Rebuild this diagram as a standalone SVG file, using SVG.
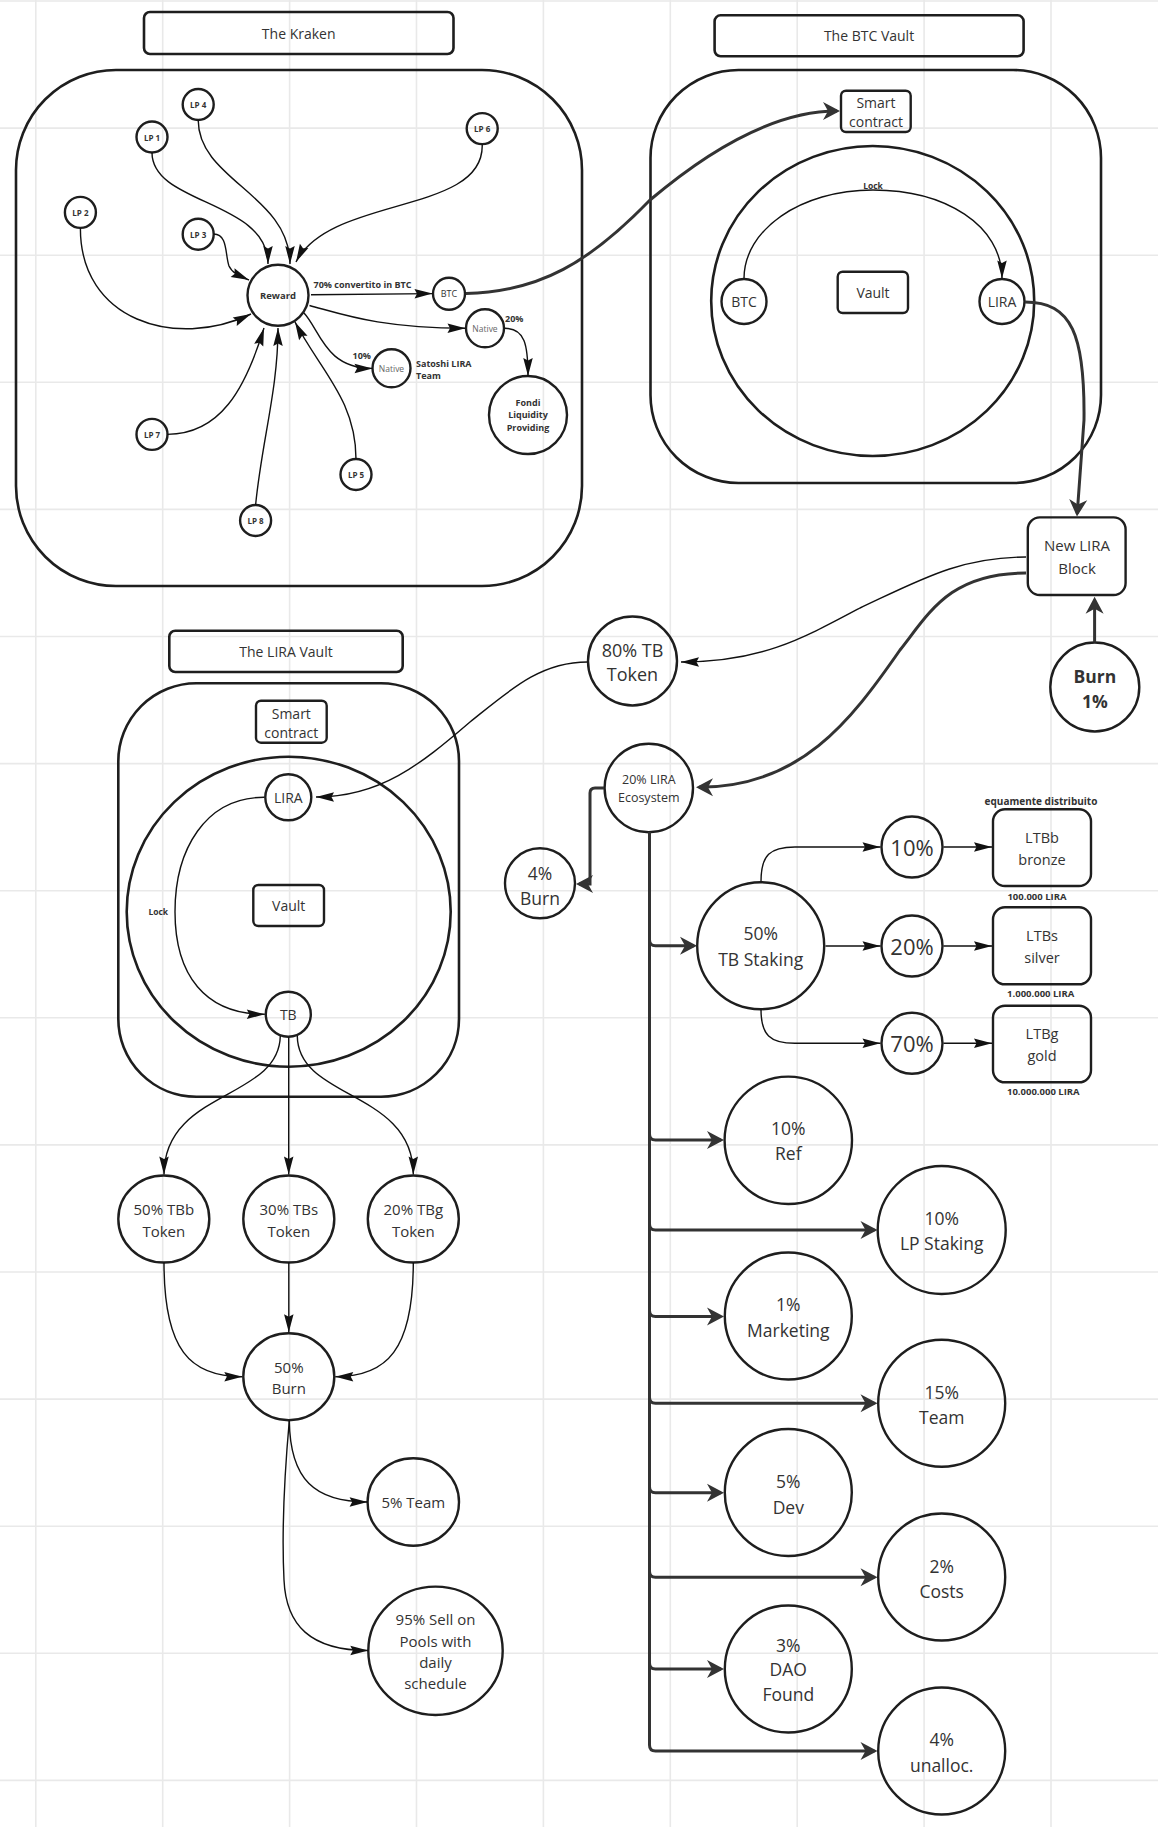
<svg xmlns="http://www.w3.org/2000/svg" width="1158" height="1827" viewBox="0 0 1158 1827">
<style>
.g{stroke:#e9e9e9;stroke-width:1.6}
.n{fill:none;stroke:#1e1e1e;stroke-width:2.4}
.c{fill:none;stroke:#1e1e1e;stroke-width:2.6}
.th{fill:none;stroke:#111;stroke-width:1.4;marker-end:url(#a)}
.tk{fill:none;stroke:#333;stroke-width:3;marker-end:url(#b)}
text{font-family:"Open Sans","Liberation Sans",sans-serif;fill:#333;text-anchor:middle;dominant-baseline:central}
.b{font-weight:700}
.s8{font-size:8px}.s85{font-size:8.5px}.s9{font-size:9px}.s95{font-size:9.5px}.s10{font-size:10px}.s125{font-size:12.5px}
.s14{font-size:14px}.s145{font-size:14.5px}.s15{font-size:15px}.s175{font-size:17.5px}.s18{font-size:18px}.s22{font-size:22px}
.st{text-anchor:start}
.gr{fill:#666}
</style>
<defs>
<marker id="a" markerUnits="userSpaceOnUse" markerWidth="20" markerHeight="12" refX="18" refY="4.75" orient="auto" overflow="visible"><path d="M0,0 L18,4.75 L0,9.5 L2.5,4.75 z" fill="#111"/></marker>
<marker id="b" markerUnits="userSpaceOnUse" markerWidth="18" markerHeight="18" refX="14" refY="9" orient="auto" overflow="visible"><path d="M0,0 L17,9 L0,18 L5,9 z" fill="#333"/></marker>
</defs>
<rect width="1158" height="1827" fill="#fff"/>
<g id="grid">
<path class="g" d="M35.8,0V1827M162.7,0V1827M289.6,0V1827M416.5,0V1827M543.4,0V1827M670.3,0V1827M797.2,0V1827M924.1,0V1827M1051,0V1827"/>
<path class="g" d="M0,1H1158M0,128.1H1158M0,255.2H1158M0,382.3H1158M0,509.4H1158M0,636.5H1158M0,763.6H1158M0,890.7H1158M0,1017.8H1158M0,1144.9H1158M0,1272H1158M0,1399.1H1158M0,1526.2H1158M0,1653.3H1158M0,1780.4H1158"/>
</g>

<g id="kraken">
<rect class="c" x="144" y="12" width="309.5" height="42" rx="6"/>
<text class="s14" x="298.7" y="33.5">The Kraken</text>
<rect class="c" x="16" y="70" width="566" height="516" rx="100"/>
</g>
<g id="lp1"><circle class="n" cx="152" cy="137" r="15.5"/><text class="b s8" x="152" y="137">LP 1</text></g>
<g id="lp2"><circle class="n" cx="80.4" cy="212.4" r="15.5"/><text class="b s8" x="80.4" y="212.4">LP 2</text></g>
<g id="lp3"><circle class="n" cx="198.2" cy="234.2" r="15.5"/><text class="b s8" x="198.2" y="234.2">LP 3</text></g>
<g id="lp4"><circle class="n" cx="198.2" cy="104.5" r="15.5"/><text class="b s8" x="198.2" y="104.5">LP 4</text></g>
<g id="lp5"><circle class="n" cx="356" cy="474.5" r="15.5"/><text class="b s8" x="356" y="474.5">LP 5</text></g>
<g id="lp6"><circle class="n" cx="482.2" cy="128.6" r="15.5"/><text class="b s8" x="482.2" y="128.6">LP 6</text></g>
<g id="lp7"><circle class="n" cx="152" cy="434.4" r="15.5"/><text class="b s8" x="152" y="434.4">LP 7</text></g>
<g id="lp8"><circle class="n" cx="255.6" cy="520.5" r="15.5"/><text class="b s8" x="255.6" y="520.5">LP 8</text></g>
<g id="reward"><circle class="n" cx="278" cy="295.3" r="30.5"/><text class="b s95" x="278" y="295.3">Reward</text></g>
<g id="btc-k"><circle class="n" cx="449" cy="293.8" r="16"/><text class="s9" x="449" y="293.8">BTC</text></g>
<g id="native20"><circle class="n" cx="485" cy="328.3" r="19"/><text class="s85 gr" x="485" y="328.3">Native</text></g>
<g id="native10"><circle class="n" cx="391.5" cy="368.3" r="19"/><text class="s85 gr" x="391.5" y="368.3">Native</text></g>
<g id="fondi"><circle class="n" cx="528" cy="415" r="39"/><text class="b s9" x="528" y="402.6">Fondi</text><text class="b s9" x="528" y="414.8">Liquidity</text><text class="b s9" x="528" y="427">Providing</text></g>
<g id="kraken-labels">
<text class="b s9" x="362.5" y="284">70% convertito in BTC</text>
<text class="b s9 st" x="505" y="318.7">20%</text>
<text class="b s9" x="361.7" y="355">10%</text>
<text class="b s9 st" x="416" y="363.3">Satoshi LIRA</text>
<text class="b s9 st" x="416" y="375.7">Team</text>
</g>

<g id="btcvault">
<rect class="c" x="714.6" y="15.3" width="309" height="41" rx="6"/>
<text class="s14" x="869" y="35.8">The BTC Vault</text>
<rect class="c" x="650.5" y="70" width="450.5" height="413" rx="88"/>
<ellipse class="c" cx="872.7" cy="301" rx="161.5" ry="155"/>
</g>
<g id="sc-btc"><rect class="n" x="841" y="90.7" width="69.7" height="41.3" rx="5"/><text class="s14" x="876" y="102">Smart</text><text class="s14" x="876" y="121">contract</text></g>
<g id="btc-v"><circle class="n" cx="744" cy="301.5" r="22.5"/><text class="s14" x="744" y="301.5">BTC</text></g>
<g id="vault-btc"><rect class="n" x="837.7" y="271.7" width="70.3" height="41.3" rx="5"/><text class="s14" x="873" y="292.3">Vault</text></g>
<g id="lira-v"><circle class="n" cx="1002" cy="301.5" r="22.5"/><text class="s14" x="1002" y="301.5">LIRA</text></g>
<text class="b s85" x="873" y="185.6">Lock</text>

<g id="newlira"><rect class="n" x="1027.8" y="517.4" width="97.8" height="77.6" rx="12"/><text class="s15" x="1077" y="545">New LIRA</text><text class="s15" x="1077" y="567.6">Block</text></g>
<g id="burn1"><circle class="n" cx="1094.8" cy="687" r="44.5"/><text class="b s175" x="1094.8" y="675.7">Burn</text><text class="b s175" x="1094.8" y="701">1%</text></g>
<g id="tb80"><circle class="n" cx="632.5" cy="661" r="44.5"/><text class="s18" x="632.5" y="650">80% TB</text><text class="s18" x="632.5" y="674.3">Token</text></g>
<g id="eco"><circle class="n" cx="648.8" cy="788" r="44.2"/><text class="s125" x="648.8" y="779.3">20% LIRA</text><text class="s125" x="648.8" y="797.7">Ecosystem</text></g>
<g id="burn4"><circle class="n" cx="540" cy="883.3" r="35"/><text class="s175" x="540" y="872.7">4%</text><text class="s175" x="540" y="897.7">Burn</text></g>
<g id="staking50"><circle class="n" cx="760.7" cy="945.7" r="63.5"/><text class="s175" x="760.7" y="933.3">50%</text><text class="s175" x="760.7" y="959">TB Staking</text></g>
<g id="p10"><circle class="n" cx="912" cy="847" r="30.5"/><text class="s22" x="912" y="847">10%</text></g>
<g id="p20"><circle class="n" cx="912" cy="946" r="30.5"/><text class="s22" x="912" y="946">20%</text></g>
<g id="p70"><circle class="n" cx="912" cy="1043.3" r="30.5"/><text class="s22" x="912" y="1043.3">70%</text></g>
<g id="ltbb"><rect class="n" x="993" y="809.3" width="98" height="76.7" rx="12"/><text class="s145" x="1042" y="837.3">LTBb</text><text class="s145" x="1042" y="859">bronze</text></g>
<g id="ltbs"><rect class="n" x="993" y="907.3" width="98" height="77" rx="12"/><text class="s145" x="1042" y="935.7">LTBs</text><text class="s145" x="1042" y="957.3">silver</text></g>
<g id="ltbg"><rect class="n" x="993" y="1005.7" width="98" height="76.6" rx="12"/><text class="s145" x="1042" y="1033.3">LTBg</text><text class="s145" x="1042" y="1055.7">gold</text></g>
<g id="ltb-labels">
<text class="b s10" x="1041" y="800.7">equamente distribuito</text>
<text class="b s95" x="1037" y="896.5">100.000 LIRA</text>
<text class="b s95" x="1040.7" y="993.3">1.000.000 LIRA</text>
<text class="b s95" x="1043.3" y="1091">10.000.000 LIRA</text>
</g>
<g id="ref"><circle class="n" cx="788.3" cy="1140.3" r="63.7"/><text class="s175" x="788.3" y="1128.3">10%</text><text class="s175" x="788.3" y="1153.3">Ref</text></g>
<g id="lpstaking"><circle class="n" cx="941.7" cy="1230" r="64"/><text class="s175" x="941.7" y="1217.7">10%</text><text class="s175" x="941.7" y="1243.3">LP Staking</text></g>
<g id="marketing"><circle class="n" cx="788.3" cy="1316" r="63.5"/><text class="s175" x="788.3" y="1304.3">1%</text><text class="s175" x="788.3" y="1330">Marketing</text></g>
<g id="team15"><circle class="n" cx="941.7" cy="1403.3" r="63.5"/><text class="s175" x="941.7" y="1391.7">15%</text><text class="s175" x="941.7" y="1416.7">Team</text></g>
<g id="dev"><circle class="n" cx="788.3" cy="1492.5" r="63.5"/><text class="s175" x="788.3" y="1481">5%</text><text class="s175" x="788.3" y="1506.7">Dev</text></g>
<g id="costs"><circle class="n" cx="941.7" cy="1577" r="63.5"/><text class="s175" x="941.7" y="1566">2%</text><text class="s175" x="941.7" y="1590.7">Costs</text></g>
<g id="dao"><circle class="n" cx="788.3" cy="1669" r="63.5"/><text class="s175" x="788.3" y="1645">3%</text><text class="s175" x="788.3" y="1669.3">DAO</text><text class="s175" x="788.3" y="1694">Found</text></g>
<g id="unalloc"><circle class="n" cx="941.7" cy="1751" r="63.5"/><text class="s175" x="941.7" y="1739.3">4%</text><text class="s175" x="941.7" y="1765">unalloc.</text></g>

<g id="liravault">
<rect class="c" x="169.3" y="630.7" width="233.4" height="41.3" rx="6"/>
<text class="s14" x="286" y="651.5">The LIRA Vault</text>
<rect class="c" x="118.3" y="683.3" width="340.7" height="413.4" rx="78"/>
<ellipse class="c" cx="288.7" cy="911.7" rx="162" ry="155"/>
</g>
<g id="sc-lira"><rect class="n" x="256" y="700.7" width="70.7" height="42" rx="5"/><text class="s14" x="291.3" y="713">Smart</text><text class="s14" x="291.3" y="732">contract</text></g>
<g id="lira-l"><circle class="n" cx="288.3" cy="797.3" r="23"/><text class="s14" x="288.3" y="797.3">LIRA</text></g>
<g id="vault-lira"><rect class="n" x="253.3" y="885" width="70.7" height="41" rx="5"/><text class="s14" x="288.7" y="905.5">Vault</text></g>
<g id="tb"><circle class="n" cx="288.3" cy="1014.3" r="22.5"/><text class="s14" x="288.3" y="1014.3">TB</text></g>
<text class="b s85" x="158.3" y="911.7">Lock</text>
<g id="tbb"><ellipse class="n" cx="163.8" cy="1219" rx="45.5" ry="43.5"/><text class="s15" x="163.8" y="1209.3">50% TBb</text><text class="s15" x="163.8" y="1231">Token</text></g>
<g id="tbs"><ellipse class="n" cx="288.8" cy="1219" rx="45.5" ry="43.5"/><text class="s15" x="288.8" y="1209.3">30% TBs</text><text class="s15" x="288.8" y="1231">Token</text></g>
<g id="tbg"><ellipse class="n" cx="413.3" cy="1219" rx="45.5" ry="43.5"/><text class="s15" x="413.3" y="1209.3">20% TBg</text><text class="s15" x="413.3" y="1231">Token</text></g>
<g id="burn50"><ellipse class="n" cx="288.8" cy="1376.7" rx="45.5" ry="43.5"/><text class="s15" x="288.8" y="1366.7">50%</text><text class="s15" x="288.8" y="1388.3">Burn</text></g>
<g id="team5"><ellipse class="n" cx="413.3" cy="1502" rx="45.7" ry="43.8"/><text class="s15" x="413.3" y="1502.3">5% Team</text></g>
<g id="sell95"><ellipse class="n" cx="435.5" cy="1650.8" rx="67.2" ry="64.2"/><text class="s15" x="435.5" y="1619">95% Sell on</text><text class="s15" x="435.5" y="1641">Pools with</text><text class="s15" x="435.5" y="1662.3">daily</text><text class="s15" x="435.5" y="1683.3">schedule</text></g>

<g id="connectors">
<path class="th" d="M152,152.5 C152,205 268,200 268,264"/>
<path class="th" d="M198.2,120 C198.2,180 290,195 290,264"/>
<path class="th" d="M482.2,144.1 C485,215 330,195 296,262"/>
<path class="th" d="M213.7,234 C228,234 225,255 229,266 C232,273 240,276 249,280"/>
<path class="th" d="M80.4,228 C80,320 175,350 251,314"/>
<path class="th" d="M167.5,434.4 C220,434 245,390 264,328"/>
<path class="th" d="M255.6,505 C262,440 278,390 278,328"/>
<path class="th" d="M356,459 C356,400 320,370 295,322"/>
<path class="th" d="M311,294.7 L432.5,293.6"/>
<path class="th" d="M309.5,305.5 C345,315 380,328 465.5,328.3"/>
<path class="th" d="M304,313 C320,330 325,368.5 372.5,368.4"/>
<path class="th" d="M504.5,328.3 C525,328 528,345 528,376"/>
<path class="tk" d="M466,293.5 C540,292 590,262 650,200 C715,145 780,111 837,111"/>
<path class="th" d="M744,278.5 C744,230 800,190 873,190 C945,190 1002,225 1002,278.5"/>
<path class="tk" d="M1025,302 C1072,302 1085,335 1084,420 L1077.2,513.6"/>
<path class="tk" d="M1094.6,642.5 L1094.6,599.7"/>
<path class="th" d="M1026,557 C960,557 920,580 860,608 C800,640 760,662 681,662"/>
<path class="tk" d="M1026,573 C950,573 930,612 900,650 C850,722 800,787.3 699,787.3"/>
<path class="tk" d="M604,788 H595 Q590,788 590,793 V884 H579"/>
<path class="tk" d="M649.5,832 V939.7 Q649.5,945.7 655.5,945.7 H694"/>
<path class="tk" d="M649.5,832 V1134 Q649.5,1140 655.5,1140 H721"/>
<path class="tk" d="M649.5,832 V1224 Q649.5,1230 655.5,1230 H874.5"/>
<path class="tk" d="M649.5,832 V1310.5 Q649.5,1316.5 655.5,1316.5 H721"/>
<path class="tk" d="M649.5,832 V1397.3 Q649.5,1403.3 655.5,1403.3 H874.5"/>
<path class="tk" d="M649.5,832 V1486.7 Q649.5,1492.7 655.5,1492.7 H721"/>
<path class="tk" d="M649.5,832 V1571.3 Q649.5,1577.3 655.5,1577.3 H874.5"/>
<path class="tk" d="M649.5,832 V1663 Q649.5,1669 655.5,1669 H721"/>
<path class="tk" d="M649.5,832 V1745 Q649.5,1751 655.5,1751 H874.5"/>
<path class="th" d="M761,881.5 C761,855 770,847 795,847 L880.5,847"/>
<path class="th" d="M825.5,946 L880.5,946"/>
<path class="th" d="M761,1009.5 C761,1035 770,1043.3 795,1043.3 L880.5,1043.3"/>
<path class="th" d="M943.5,847 L992,847"/>
<path class="th" d="M943.5,946 L992,946"/>
<path class="th" d="M943.5,1043.3 L992,1043.3"/>
<path class="th" d="M587.5,662 C540,662 510,690 470,722 C420,765 380,797 316,797"/>
<path class="th" d="M264.5,797.3 C205,797 175,850 175,911.7 C175,975 205,1014.3 264.8,1014.3"/>
<path class="th" d="M280.3,1036 C279,1100 164,1090 164,1174.5"/>
<path class="th" d="M288.7,1037 L288.7,1174.5"/>
<path class="th" d="M297.3,1036 C298,1100 413.3,1090 413.3,1174.5"/>
<path class="th" d="M164,1262.5 C164,1350 190,1376.7 242.3,1376.7"/>
<path class="th" d="M288.8,1262.5 L288.8,1332.2"/>
<path class="th" d="M413.3,1262.5 C413.3,1350 387,1376.7 335.3,1376.7"/>
<path class="th" d="M289.3,1420.5 C290,1480 315,1502 367.6,1502"/>
<path class="th" d="M289.3,1420.5 C284,1480 282,1540 284,1580 C286,1625 310,1650.5 368.3,1650.5"/>
</g>
</svg>
